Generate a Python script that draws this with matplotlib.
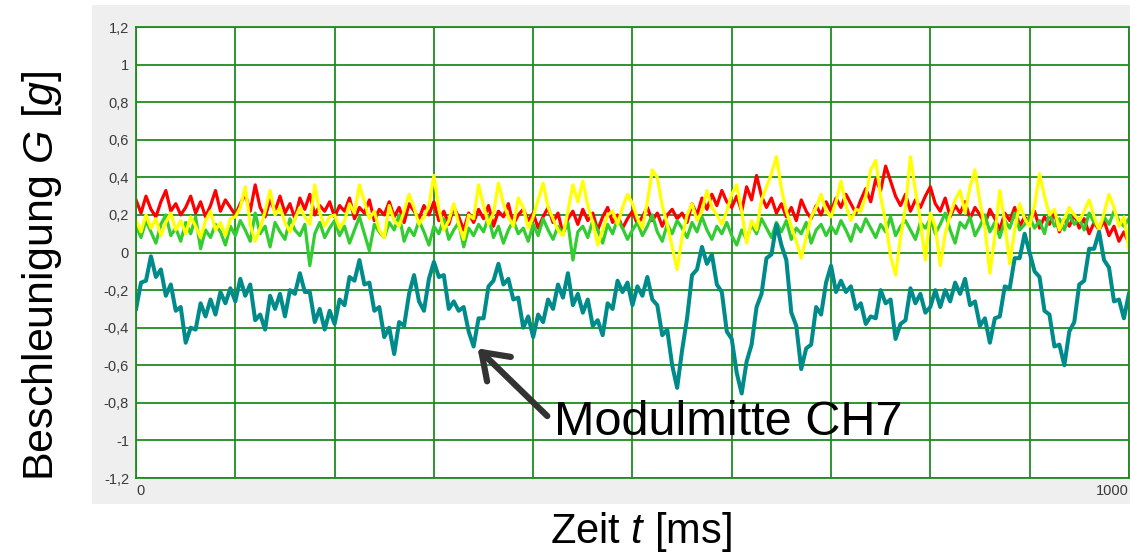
import matplotlib.pyplot as plt
from matplotlib.patches import Rectangle

# Messdaten, Abtastung alle 5 ms (0 ... 1000 ms)

zeit = list(range(0, 1001, 5))

rot = [0.28, 0.21, 0.30, 0.23, 0.19, 0.27, 0.33, 0.22, 0.26, 0.20,
       0.24, 0.30, 0.21, 0.27, 0.19, 0.25, 0.33, 0.22, 0.28, 0.24,
       0.20, 0.26, 0.31, 0.22, 0.36, 0.24, 0.19, 0.28, 0.22, 0.30,
       0.21, 0.26, 0.18, 0.29, 0.23, 0.31, 0.20, 0.25, 0.22, 0.27,
       0.19, 0.25, 0.22, 0.29, 0.18, 0.24, 0.21, 0.28, 0.17, 0.23,
       0.20, 0.27, 0.19, 0.24, 0.16, 0.26, 0.22, 0.18, 0.25, 0.20,
       0.27, 0.17, 0.22, 0.15, 0.24, 0.19, 0.12, 0.21, 0.16, 0.23,
       0.18, 0.25, 0.14, 0.22, 0.19, 0.26, 0.15, 0.20, 0.23, 0.17,
       0.21, 0.13, 0.19, 0.24, 0.16, 0.21, 0.10, 0.18, 0.22, 0.15,
       0.23, 0.17, 0.21, 0.12, 0.19, 0.24, 0.16, 0.20, 0.13, 0.18,
       0.22, 0.15, 0.19, 0.24, 0.17, 0.21, 0.14, 0.20, 0.23, 0.18,
       0.21, 0.16, 0.26, 0.20, 0.29, 0.23, 0.31, 0.25, 0.33, 0.27,
       0.24, 0.30, 0.22, 0.35, 0.28, 0.41, 0.30, 0.24, 0.29, 0.21,
       0.26, 0.19, 0.24, 0.17, 0.28, 0.22, 0.18, 0.25, 0.20, 0.27,
       0.22, 0.29, 0.24, 0.31, 0.26, 0.21, 0.28, 0.34, 0.27, 0.39,
       0.33, 0.46, 0.38, 0.30, 0.25, 0.31, 0.22, 0.28, 0.24, 0.30,
       0.35, 0.26, 0.22, 0.29, 0.19, 0.25, 0.21, 0.27, 0.18, 0.24,
       0.20, 0.15, 0.23, 0.18, 0.12, 0.21, 0.17, 0.24, 0.14, 0.19,
       0.16, 0.22, 0.13, 0.19, 0.15, 0.21, 0.11, 0.18, 0.14, 0.20,
       0.13, 0.18, 0.10, 0.16, 0.12, 0.17, 0.09, 0.14, 0.06, 0.11,
       0.05]

gruen = [0.14, 0.08, 0.17, 0.11, 0.05, 0.15, 0.20, 0.09, 0.13, 0.06,
         0.16, 0.10, 0.19, 0.02, 0.12, 0.08, 0.15, 0.11, 0.04, 0.14,
         0.09, 0.17, 0.12, 0.06, 0.21, 0.10, 0.14, 0.03, 0.16, 0.11,
         0.07, 0.18, 0.12, 0.09, 0.15, -0.07, 0.10, 0.16, 0.08, 0.13,
         0.17, 0.09, 0.14, 0.05, 0.12, 0.19, 0.10, 0.01, 0.15, 0.11,
         0.08, 0.16, 0.12, 0.20, 0.06, 0.13, 0.09, 0.17, 0.11, 0.04,
         0.14, 0.10, 0.18, 0.07, 0.12, 0.16, 0.03, 0.13, 0.09, 0.15,
         0.11, 0.19, 0.08, 0.14, 0.05, 0.12, 0.17, 0.10, 0.13, 0.06,
         0.15, 0.09, 0.18, 0.12, 0.07, 0.14, 0.10, 0.16, -0.04, 0.11,
         0.14, 0.08, 0.17, 0.12, 0.05, 0.15, 0.10, 0.18, 0.13, 0.07,
         0.12, 0.16, 0.09, 0.14, 0.20, 0.11, 0.06, 0.15, 0.10, 0.17,
         0.13, 0.08, 0.16, 0.11, 0.19, 0.12, 0.07, 0.14, 0.10, 0.16,
         0.09, 0.04, 0.12, 0.07, 0.15, 0.10, 0.18, 0.13, 0.08, 0.16,
         0.11, 0.17, 0.07, 0.13, 0.10, 0.16, 0.05, 0.12, 0.15, 0.09,
         0.14, 0.10, 0.17, 0.12, 0.06, 0.15, 0.11, 0.18, 0.13, 0.08,
         0.15, 0.11, 0.19, 0.09, 0.14, 0.17, 0.12, 0.07, 0.16, 0.13,
         0.18, 0.10, 0.15, 0.21, 0.12, 0.05, 0.16, 0.13, 0.19, 0.09,
         0.14, 0.20, 0.11, 0.16, 0.08, 0.17, 0.13, 0.21, 0.12, 0.15,
         0.19, 0.13, 0.17, 0.10, 0.21, 0.14, 0.18, 0.12, 0.20, 0.15,
         0.18, 0.12, 0.21, 0.16, 0.13, 0.19, 0.15, 0.22, 0.17, 0.14,
         0.18]

gelb = [0.17, 0.11, 0.20, 0.13, 0.18, 0.09, 0.16, 0.21, 0.12, 0.17,
        0.10, 0.19, 0.14, 0.08, 0.17, 0.22, 0.12, 0.16, 0.09, 0.18,
        0.19, 0.24, 0.35, 0.15, 0.06, 0.13, 0.22, 0.33, 0.20, 0.24,
        0.16, 0.11, 0.18, 0.24, 0.19, 0.15, 0.36, 0.21, 0.14, 0.19,
        0.20, 0.13, 0.17, 0.26, 0.21, 0.36, 0.27, 0.18, 0.22, 0.12,
        0.08, 0.25, 0.17, 0.14, 0.22, 0.31, 0.24, 0.15, 0.19, 0.25,
        0.41, 0.23, 0.12, 0.17, 0.26, 0.15, 0.07, 0.20, 0.18, 0.36,
        0.25, 0.15, 0.21, 0.37, 0.26, 0.19, 0.14, 0.29, 0.24, 0.13,
        0.19, 0.28, 0.37, 0.24, 0.18, 0.12, 0.09, 0.22, 0.36, 0.27,
        0.38, 0.25, 0.16, 0.04, 0.12, 0.20, 0.22, 0.15, 0.24, 0.31,
        0.26, 0.18, 0.13, 0.27, 0.44, 0.40, 0.25, 0.15, 0.03, -0.09,
        0.08, 0.20, 0.26, 0.17, 0.22, 0.33, 0.24, 0.20, 0.15, 0.22,
        0.31, 0.36, 0.22, 0.05, 0.17, 0.12, 0.28, 0.35, 0.42, 0.51,
        0.34, 0.22, 0.14, 0.06, -0.03, 0.08, 0.19, 0.24, 0.31, 0.22,
        0.19, 0.27, 0.38, 0.25, 0.17, 0.23, 0.22, 0.30, 0.44, 0.49,
        0.30, 0.16, -0.02, -0.12, 0.08, 0.24, 0.51, 0.33, 0.17, -0.04,
        0.21, 0.14, -0.07, 0.10, 0.20, 0.28, 0.33, 0.21, 0.35, 0.44,
        0.27, 0.13, -0.11, 0.09, 0.33, 0.16, -0.06, 0.12, 0.26, 0.18,
        0.14, 0.25, 0.42, 0.30, 0.20, 0.23, 0.12, 0.18, 0.24, 0.20,
        0.17, 0.22, 0.28, 0.19, 0.12, 0.21, 0.31, 0.24, 0.14, 0.19,
        0.02]

# Modulmitte CH7
ch7 = [-0.30, -0.16, -0.15, -0.02, -0.13, -0.09, -0.23, -0.17, -0.31, -0.29,
       -0.48, -0.40, -0.41, -0.27, -0.34, -0.25, -0.33, -0.21, -0.27, -0.19,
       -0.26, -0.14, -0.23, -0.17, -0.36, -0.33, -0.41, -0.23, -0.30, -0.22,
       -0.34, -0.20, -0.22, -0.11, -0.21, -0.21, -0.37, -0.30, -0.41, -0.31,
       -0.38, -0.25, -0.28, -0.13, -0.15, -0.04, -0.17, -0.16, -0.31, -0.29,
       -0.45, -0.40, -0.54, -0.37, -0.39, -0.22, -0.12, -0.26, -0.31, -0.14,
       -0.05, -0.13, -0.12, -0.30, -0.26, -0.31, -0.29, -0.42, -0.50, -0.35,
       -0.35, -0.18, -0.15, -0.06, -0.17, -0.14, -0.25, -0.24, -0.40, -0.34,
       -0.45, -0.33, -0.37, -0.25, -0.30, -0.17, -0.24, -0.11, -0.28, -0.22,
       -0.32, -0.25, -0.39, -0.36, -0.44, -0.27, -0.30, -0.15, -0.21, -0.16,
       -0.28, -0.18, -0.23, -0.13, -0.25, -0.28, -0.44, -0.41, -0.60, -0.72,
       -0.52, -0.35, -0.12, -0.09, 0.03, -0.06, -0.01, -0.17, -0.21, -0.42,
       -0.46, -0.64, -0.75, -0.58, -0.49, -0.29, -0.22, -0.03, -0.01, 0.15,
       0.04, -0.04, -0.32, -0.39, -0.62, -0.51, -0.49, -0.29, -0.33, -0.16,
       -0.07, -0.21, -0.15, -0.21, -0.18, -0.30, -0.27, -0.38, -0.34, -0.35,
       -0.20, -0.27, -0.25, -0.46, -0.38, -0.36, -0.19, -0.27, -0.22, -0.32,
       -0.29, -0.20, -0.29, -0.20, -0.26, -0.16, -0.22, -0.14, -0.28, -0.26,
       -0.39, -0.35, -0.48, -0.35, -0.34, -0.18, -0.19, -0.03, -0.03, 0.10,
       0.00, -0.10, -0.13, -0.31, -0.33, -0.50, -0.49, -0.60, -0.42, -0.37,
       -0.17, -0.15, 0.02, 0.02, 0.11, -0.04, -0.08, -0.26, -0.25, -0.35,
       -0.22]

y_ticks = [-1.2, -1.0, -0.8, -0.6, -0.4, -0.2, 0.0, 0.2, 0.4, 0.6, 0.8, 1.0, 1.2]
y_labels = ['-1,2', '-1', '-0,8', '-0,6', '-0,4', '-0,2', '0', '0,2', '0,4', '0,6', '0,8', '1', '1,2']
x_ticks = [0, 100, 200, 300, 400, 500, 600, 700, 800, 900, 1000]
x_labels = ['0', '', '', '', '', '', '', '', '', '', '1000']

plt.rcParams['font.family'] = ['Liberation Sans', 'DejaVu Sans']
plt.rcParams['mathtext.fontset'] = 'custom'
plt.rcParams['mathtext.rm'] = 'Liberation Sans'
plt.rcParams['mathtext.it'] = 'Liberation Sans:italic'

fig = plt.figure(figsize=(11.3, 5.52), dpi=100)

# grauer Rahmen um das Diagramm
fig.patches.append(Rectangle((0.081, 0.087), 0.92, 0.904, transform=fig.transFigure,
                             facecolor='#efefef', edgecolor='none', zorder=-5))

ax = fig.add_axes([0.1204, 0.134, 0.8786, 0.817])
ax.set_zorder(2)
ax.set_facecolor('white')

gitter = '#1e8c1e'
ax.plot(zeit, rot, color='#ff0000', lw=2.3)
ax.plot(zeit, gruen, color='#33cc33', lw=2.3)
ax.plot(zeit, gelb, color='#ffff00', lw=2.3)
ax.plot(zeit, ch7, color='#008b8b', lw=2.9)

ax.set_xlim(0, 1000)
ax.set_ylim(-1.2, 1.2)
ax.set_yticks(y_ticks)
ax.set_yticklabels(y_labels)
ax.set_xticks(x_ticks)
ax.set_xticklabels(x_labels)
ax.get_xticklabels()[0].set_ha('left')
ax.get_xticklabels()[-1].set_ha('right')
ax.tick_params(axis='both', length=0, labelsize=10.5, labelcolor='#3a3a3a')
ax.tick_params(axis='y', pad=5)
ax.tick_params(axis='x', pad=4)
ax.grid(True, color=gitter, lw=1.3)
ax.set_axisbelow(True)
for s in ax.spines.values():
    s.set_color(gitter)
    s.set_linewidth(1.3)

fig.text(0.037, 0.5, r'Beschleunigung $G$ [$g$]', rotation=90, fontsize=31,
         ha='center', va='center')
fig.text(0.567, 0.037, r'Zeit $t$ [ms]', fontsize=30, ha='center', va='center')

ax.annotate('Modulmitte CH7', xy=(344, -0.51), xytext=(421, -0.905),
            fontsize=35, ha='left', va='center',
            arrowprops=dict(arrowstyle='->,head_length=0.5,head_width=0.35',
                            color='#333333', lw=4.5, shrinkA=4, shrinkB=0,
                            relpos=(0, 0.5)))

plt.savefig('out.png', dpi=100)
